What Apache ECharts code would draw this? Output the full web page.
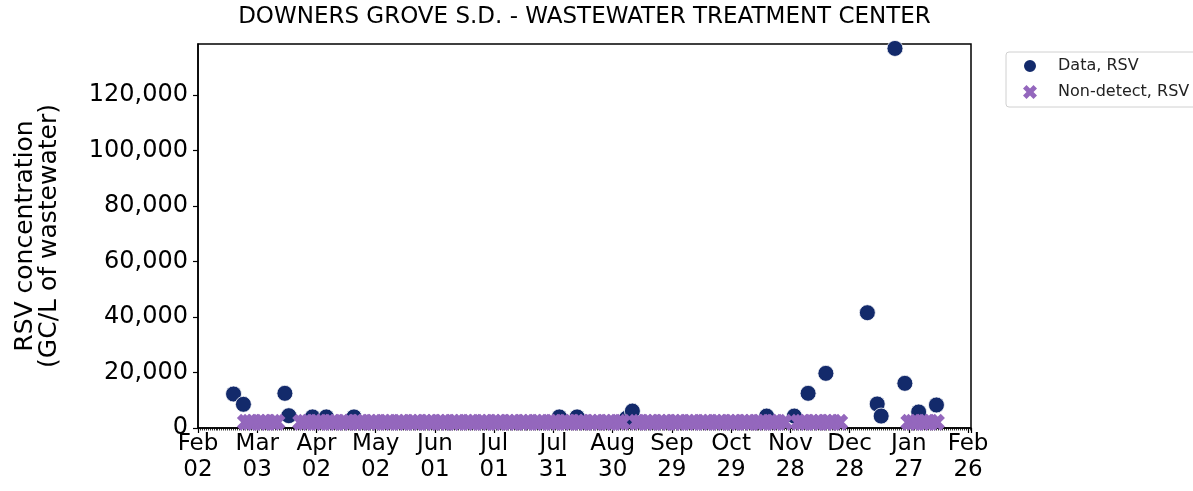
<!DOCTYPE html>
<html><head><meta charset="utf-8">
<script src="https://cdn.jsdelivr.net/npm/echarts@6/dist/echarts.min.js"></script>
<style>html,body{margin:0;padding:0;background:#fff}#c{width:1193px;height:491px}</style>
</head><body><div id="c"></div>
<script>
const chartTitle = 'DOWNERS GROVE S.D. - WASTEWATER TREATMENT CENTER';
const yAxisTitle = 'RSV concentration\n(GC/L of wastewater)';
const seriesNames = ['Data, RSV', 'Non-detect, RSV'];

const detectDates = ['2024-02-20','2024-02-25','2024-03-17','2024-03-19','2024-03-31','2024-04-07','2024-04-21',
  '2024-08-03','2024-08-12','2024-09-06','2024-09-09','2024-11-16','2024-11-30','2024-12-07','2024-12-16',
  '2025-01-06','2025-01-11','2025-01-13','2025-01-20','2025-01-25','2025-02-01','2025-02-10'];
const detectValues = [12250, 8540, 12500, 4430, 4000, 4000, 4000,
  4000, 4000, 3500, 6100, 4300, 4300, 12500, 19700,
  41550, 8650, 4300, 136800, 16100, 5770, 8290];

const nonDetectDates = [
  '2024-02-26','2024-02-28','2024-03-01','2024-03-04','2024-03-06','2024-03-08','2024-03-11','2024-03-13',
  '2024-03-25','2024-03-27','2024-03-29',
  '2024-04-01','2024-04-03','2024-04-05','2024-04-08','2024-04-10','2024-04-12','2024-04-15','2024-04-17','2024-04-19',
  '2024-04-22','2024-04-24','2024-04-26','2024-04-29',
  '2024-05-01','2024-05-03','2024-05-06','2024-05-08','2024-05-10','2024-05-13','2024-05-15','2024-05-17','2024-05-20',
  '2024-05-22','2024-05-24','2024-05-27','2024-05-29','2024-05-31',
  '2024-06-03','2024-06-05','2024-06-07','2024-06-10','2024-06-12','2024-06-14','2024-06-17','2024-06-19','2024-06-21',
  '2024-06-24','2024-06-26','2024-06-28',
  '2024-07-01','2024-07-03','2024-07-05','2024-07-08','2024-07-10','2024-07-12','2024-07-15','2024-07-17','2024-07-19',
  '2024-07-22','2024-07-24','2024-07-26','2024-07-29','2024-07-31',
  '2024-08-02','2024-08-05','2024-08-07','2024-08-09','2024-08-12','2024-08-14','2024-08-16','2024-08-19','2024-08-21',
  '2024-08-23','2024-08-26','2024-08-28','2024-08-30',
  '2024-09-02','2024-09-04','2024-09-11','2024-09-13','2024-09-16','2024-09-18','2024-09-20','2024-09-23','2024-09-25',
  '2024-09-27','2024-09-30',
  '2024-10-02','2024-10-04','2024-10-07','2024-10-09','2024-10-11','2024-10-14','2024-10-16','2024-10-18','2024-10-21',
  '2024-10-23','2024-10-25','2024-10-28','2024-10-30',
  '2024-11-01','2024-11-04','2024-11-06','2024-11-08','2024-11-11','2024-11-13','2024-11-15','2024-11-18','2024-11-20',
  '2024-11-22','2024-11-25',
  '2024-12-02','2024-12-04','2024-12-06','2024-12-09','2024-12-11','2024-12-13','2024-12-16','2024-12-18','2024-12-20',
  '2024-12-23',
  '2025-01-27','2025-01-29','2025-01-31','2025-02-03','2025-02-05','2025-02-07','2025-02-10'];
const nonDetectLevel = 2100;

const yTickValues = [0, 20000, 40000, 60000, 80000, 100000, 120000];
const xFirstTick = '2024-02-02';
const xLastDate = '2025-02-27';
const xTickDays = 30;
const monthNames = ['Jan','Feb','Mar','Apr','May','Jun','Jul','Aug','Sep','Oct','Nov','Dec'];

const DAY = 86400000;
function ts(s) { const p = s.split('-').map(Number); return Date.UTC(p[0], p[1] - 1, p[2]); }
const xMin = ts(xFirstTick);
const xMax = ts(xLastDate) + DAY / 2;
const xInterval = xTickDays * DAY;

const X_PATH = 'path://M1,0L2,1L3,0L4,1L3,2L4,3L3,4L2,3L1,4L0,3L1,2L0,1Z';
const NAVY = '#132a6b', PURPLE = '#9467bd';
const FONT = 'DejaVu Sans';

const chart = echarts.init(document.getElementById('c'), null, {renderer: 'canvas'});
chart.setOption({
  animation: false,
  backgroundColor: '#fff',
  textStyle: {fontFamily: FONT},
  title: {
    text: chartTitle, left: 584.5, top: 6, padding: 0, textAlign: 'center',
    textStyle: {fontFamily: FONT, fontSize: 23, fontWeight: 'normal', color: '#000'}
  },
  legend: {
    orient: 'vertical', left: 1006, top: 52,
    padding: [6, 24, 7, 16],
    itemWidth: 14, itemHeight: 14, itemGap: 10,
    borderColor: '#d0d0d0', borderWidth: 1, borderRadius: 3, backgroundColor: '#fff',
    textStyle: {fontFamily: FONT, fontSize: 16, color: '#222', padding: [0, 0, 0, 16]},
    data: seriesNames
  },
  grid: {left: 198, right: 222, top: 44, bottom: 63, show: true, borderColor: '#000', borderWidth: 1.5, backgroundColor: 'transparent'},
  xAxis: {
    type: 'value', min: xMin, max: xMax, interval: xInterval,
    axisLine: {show: true, onZero: false, lineStyle: {color: '#000', width: 1.5}},
    axisTick: {show: true, length: 5, lineStyle: {color: '#000', width: 1.2}},
    minorTick: {show: true, splitNumber: xTickDays, length: 2.5, lineStyle: {color: '#000', width: 0.8}},
    splitLine: {show: false},
    axisLabel: {
      margin: 3, fontFamily: FONT, fontSize: 23, lineHeight: 26, color: '#000', showMaxLabel: false,
      formatter: function (v) {
        if (Math.round(v - xMin) % xInterval !== 0) return '';
        const d = new Date(v);
        return monthNames[d.getUTCMonth()] + '\n' + String(d.getUTCDate()).padStart(2, '0');
      }
    }
  },
  yAxis: {
    type: 'value', min: 0, max: 138400,
    name: yAxisTitle, nameLocation: 'middle', nameRotate: 90, nameGap: 137,
    nameTextStyle: {fontFamily: FONT, fontSize: 25, lineHeight: 24, color: '#000'},
    axisLine: {show: true, onZero: false, lineStyle: {color: '#000', width: 1.5}},
    axisTick: {show: true, length: 5, customValues: yTickValues, lineStyle: {color: '#000', width: 1.2}},
    splitLine: {show: false},
    axisLabel: {
      margin: 10, fontFamily: FONT, fontSize: 24, color: '#000', customValues: yTickValues,
      formatter: function (v) { return Number(v).toLocaleString('en-US'); }
    }
  },
  series: [
    {
      name: seriesNames[0], type: 'scatter', symbol: 'circle', symbolSize: 16, z: 2,
      itemStyle: {color: NAVY, borderColor: '#fff', borderWidth: 0.8, opacity: 1},
      data: detectDates.map((d, i) => [ts(d), detectValues[i]])
    },
    {
      name: seriesNames[1], type: 'scatter', symbol: X_PATH, symbolSize: 17, z: 3,
      itemStyle: {color: PURPLE, borderWidth: 0, opacity: 1},
      data: nonDetectDates.map(d => [ts(d), nonDetectLevel])
    }
  ]
});
</script>
</body></html>
